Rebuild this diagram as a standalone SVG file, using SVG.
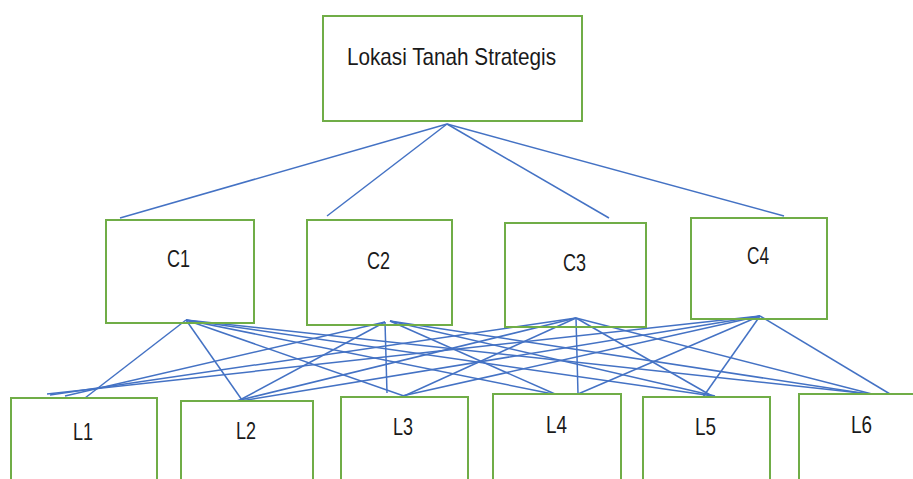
<svg xmlns="http://www.w3.org/2000/svg" width="913" height="479" viewBox="0 0 913 479">
<style>
.box{fill:#fff;stroke:#70AD47;stroke-width:2}
.lbl{font-family:"Liberation Sans",Arial,sans-serif;fill:#1a1a1a;text-anchor:middle}
#connectors line{stroke:#4472C4;stroke-width:1.5;fill:none}
</style>
<rect width="913" height="479" fill="#fff"/>
<g id="connectors">
<line x1="447" y1="124" x2="120" y2="218"/>
<line x1="447" y1="124" x2="327" y2="216"/>
<line x1="447" y1="124" x2="609" y2="218"/>
<line x1="447" y1="124" x2="784" y2="216"/>
<line x1="186" y1="320" x2="85" y2="398"/>
<line x1="186" y1="320" x2="242" y2="400"/>
<line x1="186" y1="320" x2="404" y2="396"/>
<line x1="186" y1="320" x2="553" y2="394"/>
<line x1="186" y1="320" x2="713" y2="396"/>
<line x1="186" y1="320" x2="870" y2="394"/>
<line x1="385" y1="322" x2="65" y2="396"/>
<line x1="385" y1="322" x2="238" y2="401"/>
<line x1="385" y1="322" x2="387" y2="393"/>
<line x1="390" y1="321" x2="555" y2="394"/>
<line x1="390" y1="321" x2="715" y2="396"/>
<line x1="390" y1="321" x2="868" y2="394"/>
<line x1="576" y1="318" x2="50" y2="395"/>
<line x1="576" y1="318" x2="232" y2="402"/>
<line x1="576" y1="318" x2="404" y2="396"/>
<line x1="576" y1="318" x2="578" y2="394"/>
<line x1="576" y1="318" x2="712" y2="396"/>
<line x1="576" y1="318" x2="872" y2="394"/>
<line x1="760" y1="316" x2="47" y2="394"/>
<line x1="760" y1="316" x2="228" y2="403"/>
<line x1="760" y1="316" x2="402" y2="396"/>
<line x1="760" y1="316" x2="578" y2="394"/>
<line x1="760" y1="316" x2="703" y2="397"/>
<line x1="760" y1="316" x2="890" y2="394"/>
</g>
<g id="goal">
<rect class="box" x="323" y="16" width="259" height="105" fill-opacity="0"/>
<text class="lbl" x="451.5" y="65" font-size="24" textLength="209" lengthAdjust="spacingAndGlyphs">Lokasi Tanah Strategis</text>
</g>
<g id="C1">
<rect class="box" x="106" y="220" width="148" height="103" fill-opacity="0"/>
<text class="lbl" x="178.5" y="267" font-size="23" textLength="23" lengthAdjust="spacingAndGlyphs">C1</text>
</g>
<g id="C2">
<rect class="box" x="307" y="220" width="145" height="105" fill-opacity="0"/>
<text class="lbl" x="378.5" y="269" font-size="23" textLength="23" lengthAdjust="spacingAndGlyphs">C2</text>
</g>
<g id="C3">
<rect class="box" x="505" y="223" width="141" height="104" fill-opacity="0"/>
<text class="lbl" x="574.5" y="271" font-size="23" textLength="23" lengthAdjust="spacingAndGlyphs">C3</text>
</g>
<g id="C4">
<rect class="box" x="691" y="218" width="136" height="101" fill-opacity="0"/>
<text class="lbl" x="758" y="264" font-size="23" textLength="22" lengthAdjust="spacingAndGlyphs">C4</text>
</g>
<g id="L1">
<rect class="box" x="11" y="398" width="146" height="90"/>
<text class="lbl" x="83" y="440" font-size="24" textLength="20" lengthAdjust="spacingAndGlyphs">L1</text>
</g>
<g id="L2">
<rect class="box" x="181" y="401" width="132" height="90"/>
<text class="lbl" x="246" y="439" font-size="24" textLength="20" lengthAdjust="spacingAndGlyphs">L2</text>
</g>
<g id="L3">
<rect class="box" x="341" y="397" width="127" height="90"/>
<text class="lbl" x="403" y="435" font-size="24" textLength="20" lengthAdjust="spacingAndGlyphs">L3</text>
</g>
<g id="L4">
<rect class="box" x="493" y="394" width="128" height="90"/>
<text class="lbl" x="556.5" y="433" font-size="24" textLength="21" lengthAdjust="spacingAndGlyphs">L4</text>
</g>
<g id="L5">
<rect class="box" x="643" y="397" width="127" height="90"/>
<text class="lbl" x="705.5" y="435" font-size="24" textLength="21" lengthAdjust="spacingAndGlyphs">L5</text>
</g>
<g id="L6">
<rect class="box" x="799" y="394" width="130" height="90"/>
<text class="lbl" x="861.5" y="433" font-size="24" textLength="21" lengthAdjust="spacingAndGlyphs">L6</text>
</g>
</svg>
